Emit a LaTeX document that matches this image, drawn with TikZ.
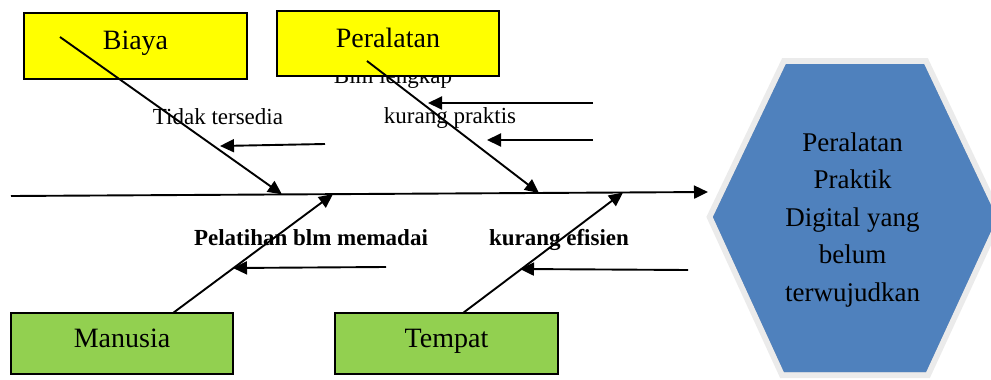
\documentclass[tikz,border=0pt]{standalone}
\usepackage{fontspec}
\setmainfont{Liberation Serif}
\usetikzlibrary{arrows.meta}
\definecolor{boxyellow}{HTML}{FFFF00}
\definecolor{boxgreen}{HTML}{92D050}
\definecolor{effectblue}{HTML}{4F81BD}
\definecolor{effectrim}{HTML}{EBEBEB}
\definecolor{effectshade}{HTML}{97A2B3}
\begin{document}
\begin{tikzpicture}[x=1pt,y=-1pt,
  causebox/.style={draw=black, line width=1.2pt, inner sep=0pt,
    font=\fontsize{28}{34}\selectfont, text height=17pt, text depth=10pt},
  bone/.style={line width=1.9pt, -{Triangle[length=14pt,width=13pt]}},
  subarrow/.style={line width=1.9pt, -{Triangle[length=14pt,width=13pt]}},
  note/.style={font=\fontsize{23}{27}\selectfont, inner sep=0pt, anchor=base},
  notebold/.style={note, font=\fontsize{23}{27}\selectfont\bfseries},
  effecttext/.style={font=\fontsize{27}{37.5}\selectfont, align=center, inner sep=0pt}]
\useasboundingbox (0,0) rectangle (991,380);
\clip (0,0) rectangle (991,380);

% effect hexagon: light rim, soft shadow, blue body
\coordinate (h1) at (786,64);
\coordinate (h2) at (924,64);
\coordinate (h3) at (997,218);
\coordinate (h4) at (926,372);
\coordinate (h5) at (784,372);
\coordinate (h6) at (713,217);
\draw[effectrim, line width=12pt, line join=miter, fill=effectrim]
  (h1) -- (h2) -- (h3) -- (h4) -- (h5) -- (h6) -- cycle;
\fill[effectshade, shift={(3.5,3)}]
  (h1) -- (h2) -- (h3) -- (h4) -- (h5) -- (h6) -- cycle;
\fill[effectblue]
  (h1) -- (h2) -- (h3) -- (h4) -- (h5) -- (h6) -- cycle;
\node[effecttext] (effect) at (852.5,219.6)
  {Peralatan\\Praktik\\Digital yang\\belum\\terwujudkan};

% sub-cause labels (the top one sits partly under its box)
\node[note] (lblLengkap) at (393,83) {Blm lengkap};
\node[note] (lblTidak) at (218,124) {Tidak tersedia};
\node[note] (lblPraktis) at (450,123) {kurang praktis};
\node[notebold] (lblLatih) at (311,245) {Pelatihan blm memadai};
\node[notebold] (lblEfisien) at (559,245) {kurang efisien};

% cause boxes
\node[causebox, fill=boxyellow, minimum width=223pt, minimum height=66pt]
  (biaya) at (135.5,46) {Biaya};
\node[causebox, fill=boxyellow, minimum width=222pt, minimum height=65pt]
  (alat) at (388,43.5) {Peralatan};
\node[causebox, fill=boxgreen, minimum width=222pt, minimum height=61pt]
  (manusia) at (122,343.5) {Manusia};
\node[causebox, fill=boxgreen, minimum width=223pt, minimum height=61pt]
  (tempat) at (446.5,343.5) {Tempat};

% spine
\coordinate (spineL) at (11,196);
\coordinate (spineR) at (708,192);
\draw[bone] (spineL) -- (spineR);

% main bones
\coordinate (biayaRoot) at (60,37);
\coordinate (biayaTip) at (282,194.4);
\coordinate (alatRoot) at (367,61);
\coordinate (alatTip) at (539,193);
\coordinate (manusiaRoot) at (173,313);
\coordinate (manusiaTip) at (333,194.1);
\coordinate (tempatRoot) at (463,313);
\coordinate (tempatTip) at (623,192.5);
\draw[bone] (biayaRoot) -- (biayaTip);
\draw[bone] (alatRoot) -- (alatTip);
\draw[bone] (manusiaRoot) -- (manusiaTip);
\draw[bone] (tempatRoot) -- (tempatTip);

% sub-cause arrows
\coordinate (tidakA) at (325,144);
\coordinate (tidakB) at (220,146);
\coordinate (lengkapA) at (593,103);
\coordinate (lengkapB) at (428,103);
\coordinate (praktisA) at (593,140);
\coordinate (praktisB) at (487,140);
\coordinate (latihA) at (386,267);
\coordinate (latihB) at (233,268);
\coordinate (efisienA) at (688,270);
\coordinate (efisienB) at (520,269);
\draw[subarrow] (tidakA) -- (tidakB);
\draw[subarrow] (lengkapA) -- (lengkapB);
\draw[subarrow] (praktisA) -- (praktisB);
\draw[subarrow] (latihA) -- (latihB);
\draw[subarrow] (efisienA) -- (efisienB);
\end{tikzpicture}
\end{document}
